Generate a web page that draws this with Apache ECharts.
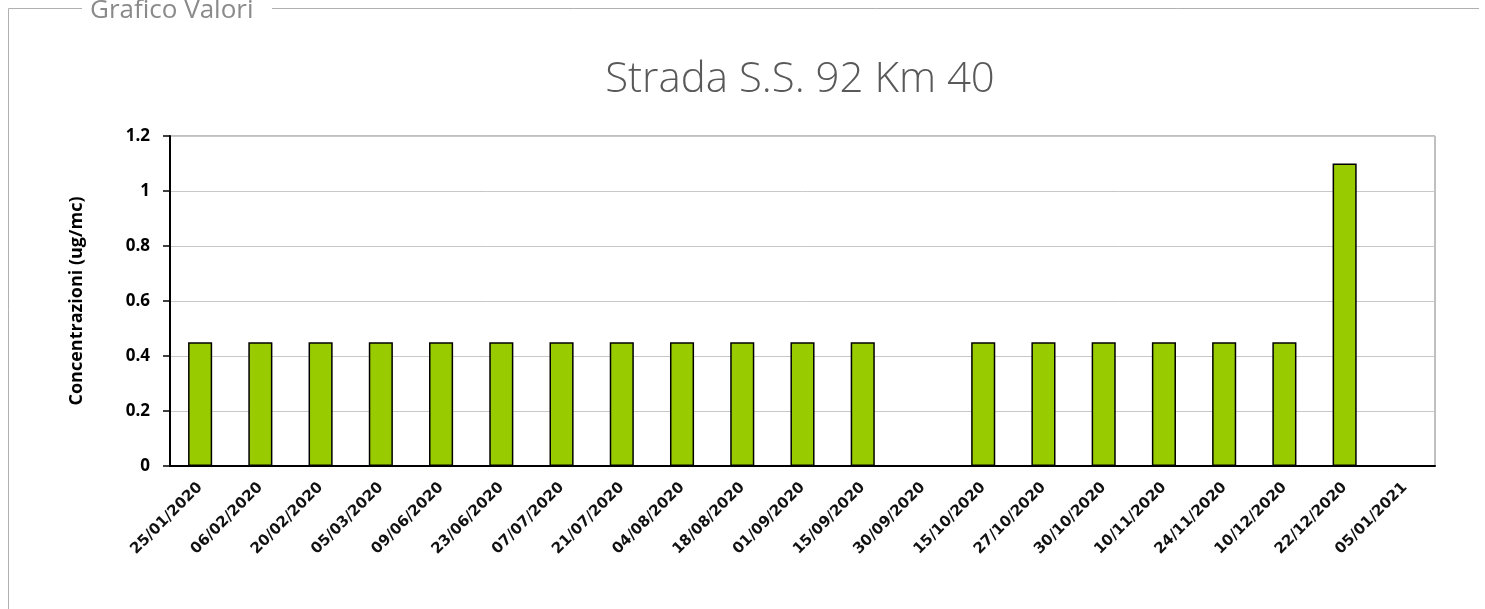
<!DOCTYPE html>
<html><head><meta charset="utf-8">
<script src="https://cdn.jsdelivr.net/npm/echarts@6/dist/echarts.min.js"></script>
<style>html,body{margin:0;padding:0;background:#fff}#c{width:1485px;height:609px}</style>
</head><body><div id="c"></div>
<script>
const categories = ['25/01/2020','06/02/2020','20/02/2020','05/03/2020','09/06/2020','23/06/2020','07/07/2020','21/07/2020','04/08/2020','18/08/2020','01/09/2020','15/09/2020','30/09/2020','15/10/2020','27/10/2020','30/10/2020','10/11/2020','24/11/2020','10/12/2020','22/12/2020','05/01/2021'];
const values = [0.45,0.45,0.45,0.45,0.45,0.45,0.45,0.45,0.45,0.45,0.45,0.45,null,0.45,0.45,0.45,0.45,0.45,0.45,1.1,null];
const titleText = 'Strada S.S. 92 Km 40';
const yName = 'Concentrazioni (ug/mc)';
const panelLabel = 'Grafico Valori';

const chart = echarts.init(document.getElementById('c'), null, {renderer:'canvas'});
chart.setOption({
  animation:false,
  backgroundColor:'#fff',
  title:{text:titleText,left:795,top:54,textAlign:'center',
    textStyle:{fontFamily:'Open Sans',fontWeight:300,fontSize:42,color:'#595959'}},
  graphic:[
    {type:'polyline',shape:{points:[[82,8.5],[8.5,8.5],[8.5,620]]},style:{stroke:'#b0b0b0',lineWidth:1,fill:null}},
    {type:'line',shape:{x1:272,y1:8.5,x2:1479,y2:8.5},style:{stroke:'#b0b0b0',lineWidth:1}},
    {type:'text',x:90,y:11,style:{text:panelLabel,font:'26px "Open Sans"',fill:'#8a8a8a',verticalAlign:'middle'}}
  ],
  grid:{left:170,right:50,top:136,bottom:143,show:true,borderColor:'#808080',borderWidth:1},
  xAxis:{type:'category',data:categories,boundaryGap:true,
    axisLine:{lineStyle:{color:'#000',width:2}},
    axisTick:{interval:0,length:6,lineStyle:{color:'#000',width:1.5}},
    axisLabel:{interval:0,rotate:45,margin:19,fontFamily:'DejaVu Sans',fontWeight:'bold',fontSize:15,color:'#111'}},
  yAxis:{type:'value',min:0,max:1.2,interval:0.2,
    name:yName,nameLocation:'middle',nameGap:84,
    nameTextStyle:{fontFamily:'Open Sans',fontWeight:'bold',fontSize:18,color:'#000'},
    axisLine:{show:true,lineStyle:{color:'#000',width:2}},
    axisTick:{show:true,length:7,lineStyle:{color:'#000',width:1.5}},
    axisLabel:{margin:20,fontFamily:'Open Sans',fontWeight:'bold',fontSize:17,color:'#000'},
    splitLine:{lineStyle:{color:'#c8c8c8',width:1}}},
  series:[{type:'bar',data:values,barWidth:'40%',
    itemStyle:{color:'#99cc00',borderColor:'#000',borderWidth:1.5}}]
});
</script></body></html>
